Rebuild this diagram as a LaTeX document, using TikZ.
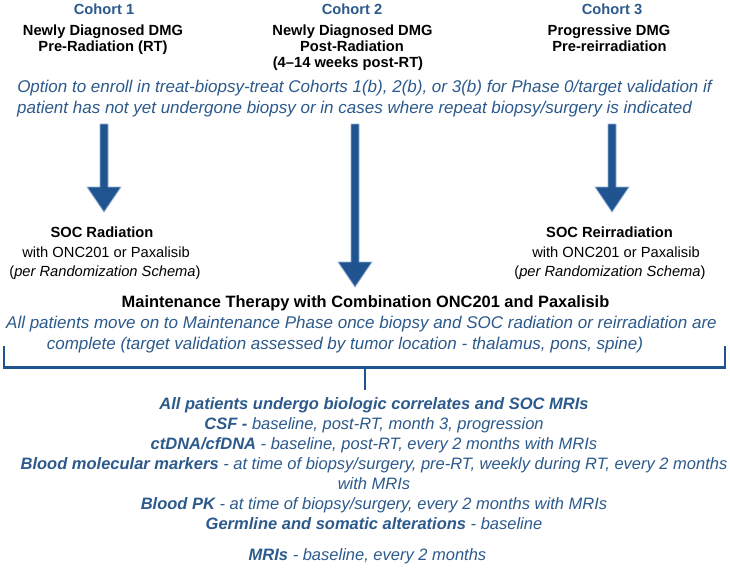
\documentclass[tikz,border=0pt]{standalone}
\usepackage{fontspec}
\setmainfont{Liberation Sans}
\usetikzlibrary{calc}
\definecolor{cblue}{RGB}{44,90,140}
\definecolor{adark}{RGB}{31,84,145}
\definecolor{alight}{RGB}{150,178,215}
\newcommand\blockarrow[2]{%
  \path[barrow] let \p1=(#1), \p2=(#2) in
    (\x1-4pt,\y1) -- (\x1+4pt,\y1) -- (\x1+4pt,\y2+25pt) -- (\x1+17pt,\y2+25pt)
    -- (\x1,\y2) -- (\x1-17pt,\y2+25pt) -- (\x1-4pt,\y2+25pt) -- cycle;}
\begin{document}
\begin{tikzpicture}[x=1pt,y=-1pt,
  every node/.style={inner sep=0pt, anchor=base},
  cohort/.style={font=\fontsize{14.7}{17}\selectfont\bfseries, text=cblue},
  headtxt/.style={font=\fontsize{14.7}{17}\selectfont\bfseries, text=black},
  blueit/.style={font=\fontsize{17}{18}\selectfont\itshape, text=cblue},
  soctitle/.style={font=\fontsize{14.7}{17}\selectfont\bfseries, text=black},
  socsub/.style={font=\fontsize{14.7}{17}\selectfont, text=black},
  mainttxt/.style={font=\fontsize{16.4}{18}\selectfont\bfseries, text=black},
  bottxt/.style={font=\fontsize{16.5}{20}\selectfont\itshape, text=cblue},
  barrow/.style={fill=adark, draw=alight, line width=0.8pt},
  bracketline/.style={draw=adark, line width=2.6pt}
]
\useasboundingbox (0,0) rectangle (730,567);
\fill[white] (0,0) rectangle (730,567);

% Cohort headers
\node[cohort] (c1) at (104,14.5) {Cohort 1};
\node[headtxt] (c1a) at (103,36) {Newly Diagnosed DMG};
\node[headtxt] (c1b) at (103,51.5) {Pre-Radiation (RT)};

\node[cohort] (c2) at (352,14.5) {Cohort 2};
\node[headtxt] (c2a) at (352.5,36) {Newly Diagnosed DMG};
\node[headtxt] (c2b) at (352,51.5) {Post-Radiation};
\node[headtxt] (c2c) at (348,67.5) {(4\textendash14 weeks post-RT)};

\node[cohort] (c3) at (612,14.5) {Cohort 3};
\node[headtxt] (c3a) at (609,36) {Progressive DMG};
\node[headtxt] (c3b) at (609.5,51.5) {Pre-reirradiation};

% option text
\node[blueit] (opt1) at (364.5,93) {Option to enroll in treat-biopsy-treat Cohorts 1(b), 2(b), or 3(b) for Phase 0/target validation if};
\node[blueit] (opt2) at (354.5,113.5) {patient has not yet undergone biopsy or in cases where repeat biopsy/surgery is indicated};

% arrows
\coordinate (a1s) at (104,124);
\coordinate (a1e) at (104,212);
\coordinate (a2s) at (355,124);
\coordinate (a2e) at (355,287);
\coordinate (a3s) at (612,124);
\coordinate (a3e) at (612,212);
\blockarrow{a1s}{a1e}
\blockarrow{a2s}{a2e}
\blockarrow{a3s}{a3e}

% SOC boxes
\node[soctitle] (s1) at (102,237) {SOC Radiation};
\node[socsub] (s1a) at (106,257) {with ONC201 or Paxalisib};
\node[socsub] (s1b) at (105,276) {(\textit{per Randomization Schema})};

\node[soctitle] (s3) at (609.5,237) {SOC Reirradiation};
\node[socsub] (s3a) at (616,257) {with ONC201 or Paxalisib};
\node[socsub] (s3b) at (610,276) {(\textit{per Randomization Schema})};

% maintenance
\node[mainttxt] (m) at (365.5,307) {Maintenance Therapy with Combination ONC201 and Paxalisib};
\node[blueit] (m1) at (361.5,328.5) {All patients move on to Maintenance Phase once biopsy and SOC radiation or reirradiation are};
\node[blueit] (m2) at (345,349) {complete (target validation assessed by tumor location - thalamus, pons, spine)};

% bracket
\coordinate (bl) at (4,346);
\coordinate (blc) at (4,367.5);
\coordinate (brc) at (725,367.5);
\coordinate (br) at (725,346);
\coordinate (tk1) at (365,367.5);
\coordinate (tk2) at (365,390);
\draw[bracketline] (bl) -- (blc) -- (brc) -- (br);
\draw[bracketline] (tk1) -- (tk2);

% bottom list
\node[bottxt] (b1) at (374,409) {\textbf{All patients undergo biologic correlates and SOC MRIs}};
\node[bottxt] (b2) at (374,429.5) {\textbf{CSF -} baseline, post-RT, month 3, progression};
\node[bottxt] (b3) at (374,449.5) {\textbf{ctDNA/cfDNA} - baseline, post-RT, every 2 months with MRIs};
\node[bottxt] (b4) at (374,469.5) {\textbf{Blood molecular markers} - at time of biopsy/surgery, pre-RT, weekly during RT, every 2 months};
\node[bottxt] (b5) at (374,489) {with MRIs};
\node[bottxt] (b6) at (374,509) {\textbf{Blood PK} - at time of biopsy/surgery, every 2 months with MRIs};
\node[bottxt] (b7) at (374,529) {\textbf{Germline and somatic alterations} - baseline};
\node[bottxt] (b8) at (367.5,560) {\textbf{MRIs} - baseline, every 2 months};
\end{tikzpicture}
\end{document}
